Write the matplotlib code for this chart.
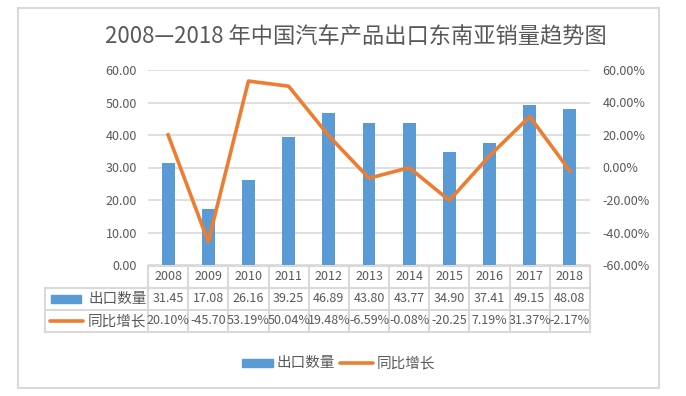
import matplotlib
matplotlib.use("Agg")
import matplotlib.pyplot as plt
import matplotlib.transforms as mtransforms
from matplotlib.patches import Rectangle
from matplotlib.lines import Line2D
import numpy as np

plt.rcParams['font.family'] = ['Noto Sans CJK SC', 'DejaVu Sans']

# data
years = ['2008', '2009', '2010', '2011', '2012', '2013', '2014', '2015', '2016', '2017', '2018']
export_qty = [31.45, 17.08, 26.16, 39.25, 46.89, 43.80, 43.77, 34.90, 37.41, 49.15, 48.08]
growth = [20.10, -45.70, 53.19, 50.04, 19.48, -6.59, -0.08, -20.25, 7.19, 31.37, -2.17]
growth_text = ['20.10%', '-45.70', '53.19%', '50.04%', '19.48%', '-6.59%', '-0.08%',
               '-20.25', '7.19%', '31.37%', '-2.17%']
series_names = ['出口数量', '同比增长']
title = '2008—2018 年中国汽车产品出口东南亚销量趋势图'

W, H = 686, 396
blue = '#5B9BD5'
orange = '#ED7D31'
grey = '#D9D9D9'
txt = '#595959'

fig = plt.figure(figsize=(W / 100, H / 100), dpi=100)


def fx(x):
    return x / W


def fy(y):
    return 1 - y / H


# outer frame
fig.patches.append(Rectangle((fx(18), fy(388)), fx(659) - fx(18), fy(8) - fy(388),
                             transform=fig.transFigure, fill=False, ec=grey, lw=1.5))

left, right, top, bottom = 148, 590, 70, 265
ax = fig.add_axes([fx(left), fy(bottom), fx(right) - fx(left), fy(top) - fy(bottom)])
x = np.arange(len(years))
ax.bar(x, export_qty, width=0.32, color=blue, zorder=2)
ax.set_xlim(-0.5, len(years) - 0.5)
ax.set_ylim(0, 60)
ax.set_yticks(np.arange(0, 61, 10))
ax.set_yticklabels(['%.2f' % v for v in np.arange(0, 61, 10)])
ax.set_xticks([])
ax.grid(axis='y', color=grey, lw=1.2, zorder=0)
ax.tick_params(axis='y', length=0, labelsize=9, labelcolor=txt, pad=8)
for s in ax.spines.values():
    s.set_visible(False)

ax2 = ax.twinx()
ax2.plot(x, growth, color=orange, lw=2.6, solid_joinstyle='round', zorder=3)
ax2.set_ylim(-60, 60)
ax2.set_yticks(np.arange(-60, 61, 20))
ax2.set_yticklabels(['%.2f%%' % v for v in np.arange(-60, 61, 20)])
ax2.tick_params(axis='y', length=0, labelsize=9, labelcolor=txt, pad=9)
for s in ax2.spines.values():
    s.set_visible(False)

fig.text(fx(356), fy(37), title, ha='center', va='center', fontsize=16, color=txt)

# data table under the axis
bt = mtransforms.blended_transform_factory(ax.transData, fig.transFigure)
rows_y = [266, 288, 310, 332]
for i, yy in enumerate(rows_y):
    x0 = left if i == 0 else 45
    fig.lines.append(Line2D([fx(x0), fx(right)], [fy(yy), fy(yy)], transform=fig.transFigure,
                            color=grey, lw=1.5))
for k in range(len(years) + 1):
    fig.lines.append(Line2D([k - 0.5, k - 0.5], [fy(266), fy(332)], transform=bt,
                            color=grey, lw=1.5))
fig.lines.append(Line2D([fx(45), fx(45)], [fy(288), fy(332)], transform=fig.transFigure,
                        color=grey, lw=1.5))

for i in range(len(years)):
    fig.text(x[i], fy(277), years[i], transform=bt, ha='center', va='center',
             fontsize=9, color=txt)
    fig.text(x[i], fy(299), '%.2f' % export_qty[i], transform=bt, ha='center', va='center',
             fontsize=9, color=txt)
    fig.text(x[i], fy(321), growth_text[i], transform=bt, ha='center', va='center',
             fontsize=9, color=txt)

# legend keys inside the table
fig.patches.append(Rectangle((fx(51), fy(303)), fx(81) - fx(51), fy(295) - fy(303),
                             transform=fig.transFigure, color=blue))
fig.lines.append(Line2D([fx(50), fx(83)], [fy(321), fy(321)], transform=fig.transFigure,
                        color=orange, lw=2.6, solid_capstyle='round'))
fig.text(fx(88), fy(299), series_names[0], ha='left', va='center', fontsize=10.5, color=txt)
fig.text(fx(88), fy(321), series_names[1], ha='left', va='center', fontsize=10.5, color=txt)

# bottom legend
fig.patches.append(Rectangle((fx(242), fy(367)), fx(273) - fx(242), fy(359) - fy(367),
                             transform=fig.transFigure, color=blue))
fig.text(fx(277), fy(363), series_names[0], ha='left', va='center', fontsize=10.5, color=txt)
fig.lines.append(Line2D([fx(340), fx(373)], [fy(363), fy(363)], transform=fig.transFigure,
                        color=orange, lw=2.6, solid_capstyle='round'))
fig.text(fx(377), fy(363), series_names[1], ha='left', va='center', fontsize=10.5, color=txt)

plt.savefig('out.png', dpi=100)
